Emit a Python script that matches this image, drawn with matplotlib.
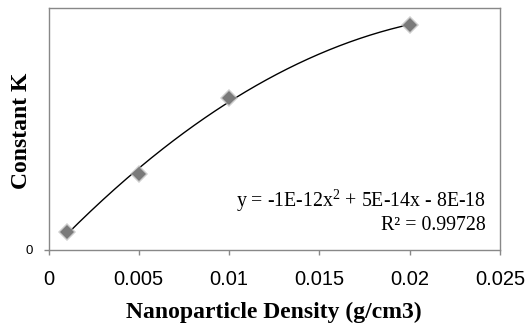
import matplotlib.pyplot as plt
import numpy as np

plt.rcParams['mathtext.fontset'] = 'custom'
plt.rcParams['mathtext.rm'] = 'Liberation Serif'

# data (K in units)
density = [0.001, 0.005, 0.01, 0.02]
k_const = [0.47e-16, 2.00e-16, 4.00e-16, 5.92e-16]
eq_text = 'y = -1E-12x$^{\\mathrm{2}}$ + 5E-14x - 8E-18\nR² = 0.99728'
xticks = [0, 0.005, 0.01, 0.015, 0.02, 0.025]
xtick_labels = ['0', '0.005', '0.01', '0.015', '0.02', '0.025']

fig = plt.figure(figsize=(5.27, 3.27), dpi=100)
ax = fig.add_axes([48.5/527, 1-250/327, 451.5/527, 242/327])

# polynomial trendline (order 2)
c = np.polyfit(density, k_const, 2)
xx = np.linspace(density[0], density[-1], 200)
ax.plot(xx, np.polyval(c, xx), color='black', linewidth=1.0, zorder=2)

# soft grey diamonds
ax.plot(density, k_const, linestyle='none', marker='D', markersize=9.5,
        color='#b8b8b8', markeredgewidth=0, alpha=0.7, zorder=3)
ax.plot(density, k_const, linestyle='none', marker='D', markersize=7,
        color='#7a7a7a', markeredgewidth=0, zorder=4)

ax.set_xlim(0, 0.025)
ax.set_ylim(0, 6.37e-16)
ax.set_xticks(xticks)
ax.set_xticklabels(xtick_labels, fontname='Liberation Sans', fontsize=14.5)
ax.set_yticks([0])
ax.set_yticklabels(['0'], fontname='Liberation Sans', fontsize=9.5)
ax.tick_params(direction='out', length=3.6, width=1, color='#888888')
ax.tick_params(axis='x', pad=11)
ax.tick_params(axis='y', pad=8)

for s in ax.spines.values():
    s.set_color('#888888')
    s.set_linewidth(1.0)

fig.text(274/527, 1-312/327, 'Nanoparticle Density (g/cm3)',
         fontname='Liberation Serif', fontweight='bold', fontsize=17,
         ha='center', va='center')
fig.text(22/527, 1-131/327, 'Constant K', fontname='Liberation Serif',
         fontweight='bold', fontsize=17, rotation=90,
         ha='center', va='center')

ax.text(0.02422, 0.39e-16, eq_text, ha='right', va='bottom',
        fontname='Liberation Serif', fontsize=14.3, linespacing=1.19)

fig.savefig('out.png', dpi=100)
